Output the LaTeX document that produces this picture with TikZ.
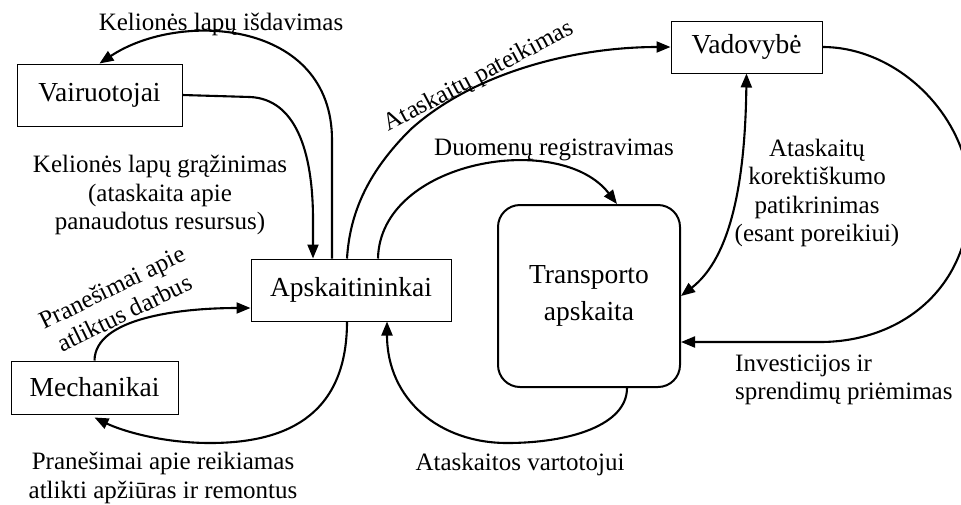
\documentclass[tikz,border=0pt]{standalone}
\usepackage{fontspec}
\setmainfont{Liberation Serif}
\usetikzlibrary{arrows.meta}

\begin{document}
\begin{tikzpicture}[x=1pt,y=-1pt,
  lbl/.style={font=\fontsize{25}{28.5}\selectfont, inner sep=0pt},
  actor/.style={draw, line width=1pt, font=\fontsize{27.5}{32}\selectfont,
    inner sep=0pt},
  sysbox/.style={draw, line width=2pt, rounded corners=22pt,
    font=\fontsize{27.5}{37}\selectfont, align=center, inner sep=0pt,
    minimum width=182pt, minimum height=182pt},
  flow/.style={line width=2.1pt, -{Triangle[length=14pt,width=11pt]}},
  flow2/.style={line width=2.1pt,
    {Triangle[length=14pt,width=11pt]}-{Triangle[length=14pt,width=11pt]}}]

\useasboundingbox (0,0) rectangle (961,504);

% participants
\node[actor, minimum width=165pt, minimum height=62pt] (vair) at (99.5,95) {Vairuotojai};
\node[actor, minimum width=200pt, minimum height=62pt] (apsk) at (351,290) {Apskaitininkai};
\node[actor, minimum width=167pt, minimum height=53pt] (mech) at (94.5,387.5) {Mechanikai};
\node[actor, minimum width=151pt, minimum height=52pt] (vad) at (746.5,47) {Vadovybė};
\node[sysbox] (tr) at (589,296) {Transporto\\apskaita};

% labels
\node[lbl, anchor=base] (l1) at (221,30) {Kelionės lapų išdavimas};
\node[lbl, align=center] (l2) at (160,195) {Kelionės lapų grąžinimas\\(ataskaita apie\\panaudotus resursus)};
\node[lbl, rotate=28] (l3) at (479,77) {Ataskaitų pateikimas};
\node[lbl, anchor=base] (l4) at (554,155) {Duomenų registravimas};
\node[lbl, align=center] (l5) at (817,193) {Ataskaitų\\korektiškumo\\patikrinimas\\(esant poreikiui)};
\node[lbl, align=left, anchor=west] (l6) at (735,380) {Investicijos ir\\sprendimų priėmimas};
\node[lbl, anchor=base] (l7) at (520,470) {Ataskaitos vartotojui};
\node[lbl, align=center] (l8) at (163,478) {Pranešimai apie reikiamas\\atlikti apžiūras ir remontus};
\node[lbl, align=center, rotate=26] (l9) at (118,300) {Pranešimai apie\\atliktus darbus};

% flows
\draw[flow] ([xshift=-19pt]apsk.north) -- (332,140)
  .. controls (332,20) and (180,10) .. (vair.north);
\draw[flow] (vair.east) -- (250,97)
  .. controls (295,99) and (313,150) .. (313,220) -- ([xshift=-38pt]apsk.north);
\draw[flow] ([xshift=-4pt]apsk.north) .. controls (350,210) and (370,170) .. (410,130)
  .. controls (470,75) and (570,47) .. (vad.west);
\draw[flow] ([xshift=27pt]apsk.north) .. controls (380,160) and (560,130) .. ([xshift=28pt]tr.north);
\draw[flow2] (tr.east) .. controls (725,262) and (745,200) .. (vad.south);
\draw[flow] (vad.east) .. controls (900,47) and (972,120) .. (970,200)
  .. controls (968,290) and (900,342) .. (820,342) -- ([yshift=-46pt]tr.east);
\draw[flow] ([xshift=38pt]tr.south) .. controls (627,425) and (570,443) .. (507,443)
  .. controls (440,443) and (387,400) .. ([xshift=36pt]apsk.south);
\draw[flow] ([xshift=-4pt]apsk.south) .. controls (347,420) and (280,443) .. (210,443)
  .. controls (160,443) and (120,430) .. ([yshift=-3pt]mech.south);
\draw[flow] (mech.north) .. controls (95,318) and (180,308) .. ([yshift=-18pt]apsk.west);
\end{tikzpicture}
\end{document}
